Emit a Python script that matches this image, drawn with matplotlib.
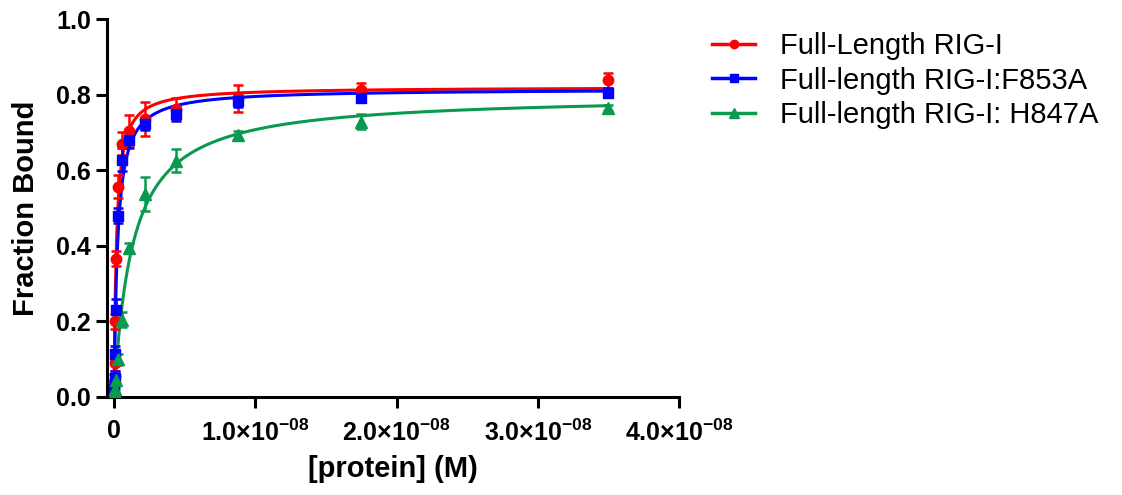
import numpy as np
import matplotlib.pyplot as plt
from matplotlib.ticker import FixedLocator

plt.rcParams['font.family'] = ['Liberation Sans', 'DejaVu Sans']
plt.rcParams['mathtext.fontset'] = 'custom'
plt.rcParams['mathtext.rm'] = 'Liberation Sans:bold'
plt.rcParams['mathtext.bf'] = 'Liberation Sans:bold'

# protein concentration (M), 2-fold dilution series
conc = np.array([3.5, 1.75, 0.875, 0.4375, 0.21875, 0.109, 0.0547,
                 0.0273, 0.01367, 0.00684, 0.00342, 0.00171]) * 1e-8

# fraction bound, mean and error
wt_y = [0.838, 0.812, 0.79, 0.762, 0.735, 0.705, 0.67, 0.556, 0.366, 0.20, 0.09, 0.04]
wt_err = [0.02, 0.02, 0.035, 0.03, 0.045, 0.04, 0.03, 0.03, 0.02, 0.02, 0.02, 0.02]
f853_y = [0.805, 0.792, 0.783, 0.75, 0.722, 0.68, 0.628, 0.48, 0.23, 0.115, 0.05, 0.02]
f853_err = [0.012, 0.012, 0.015, 0.02, 0.015, 0.02, 0.03, 0.02, 0.03, 0.02, 0.02, 0.01]
h847_y = [0.765, 0.728, 0.693, 0.625, 0.538, 0.395, 0.205, 0.10, 0.045, 0.02, 0.01, 0.005]
h847_err = [0.008, 0.02, 0.01, 0.03, 0.045, 0.012, 0.02, 0.015, 0.01, 0.01, 0.01, 0.005]

labels = ['Full-Length RIG-I', 'Full-length RIG-I:F853A', 'Full-length RIG-I: H847A']
colors = ['#ff0000', '#0000ff', '#0a9a4f']
markers = ['o', 's', '^']
msizes = [7.5, 7.5, 8.5]


# one-site binding fit: Bmax * x / (Kd + x)
def fit_binding(x, y):
    y = np.asarray(y)
    best = None
    for kd in np.logspace(-11, -8, 600):
        f = x / (kd + x)
        b = (f @ y) / (f @ f)
        r = ((b * f - y)**2).sum()
        if best is None or r < best[0]:
            best = (r, b, kd)
    return best[1:]


fig = plt.figure(figsize=(11.22, 4.95), dpi=100)
ax = fig.add_axes([0.0954, 0.198, 0.5098, 0.7636])

xs = np.linspace(0, 3.5e-8, 2000)
series = [(wt_y, wt_err), (f853_y, f853_err), (h847_y, h847_err)]
handles = []
for (y, e), lab, c, m, ms in zip(series, labels, colors, markers, msizes):
    b, kd = fit_binding(conc, y)
    ax.plot(xs, b * xs / (kd + xs), color=c, lw=2.2, zorder=2)
    ax.errorbar(conc, y, yerr=e, fmt=m, color=c, ms=ms, elinewidth=1.8,
                capsize=3.5, capthick=1.8, zorder=3)
    handles.append(plt.Line2D([], [], color=c, lw=2.5, marker=m, ms=ms * 0.8))

ax.set_xlim(-0.05e-8, 4.0e-8)
ax.set_ylim(0, 1.0)
ax.spines['top'].set_visible(False)
ax.spines['right'].set_visible(False)
for s in ['left', 'bottom']:
    ax.spines[s].set_linewidth(2.2)
ax.tick_params(width=2.2, length=8, labelsize=18)
ax.tick_params(axis='x', pad=8)

xticks = [0, 1e-8, 2e-8, 3e-8, 4e-8]
xlabels = ['0'] + [r'%d.0×10$^{\mathrm{-08}}$' % i for i in range(1, 5)]
ax.xaxis.set_major_locator(FixedLocator(xticks))
ax.set_xticklabels(xlabels, fontweight='bold')
ax.set_yticks([0, 0.2, 0.4, 0.6, 0.8, 1.0])
ax.set_yticklabels(['0.0', '0.2', '0.4', '0.6', '0.8', '1.0'], fontweight='bold')

ax.set_xlabel('[protein] (M)', fontsize=21, fontweight='bold', labelpad=7)
ax.set_ylabel('Fraction Bound', fontsize=21, fontweight='bold', labelpad=12)

fig.legend(handles, labels, loc='upper left', bbox_to_anchor=(0.635, 0.935),
           frameon=False, fontsize=21, handlelength=1.45, handletextpad=0.85,
           labelspacing=0.22, borderpad=0, borderaxespad=0)

fig.savefig('out.png', dpi=100)
